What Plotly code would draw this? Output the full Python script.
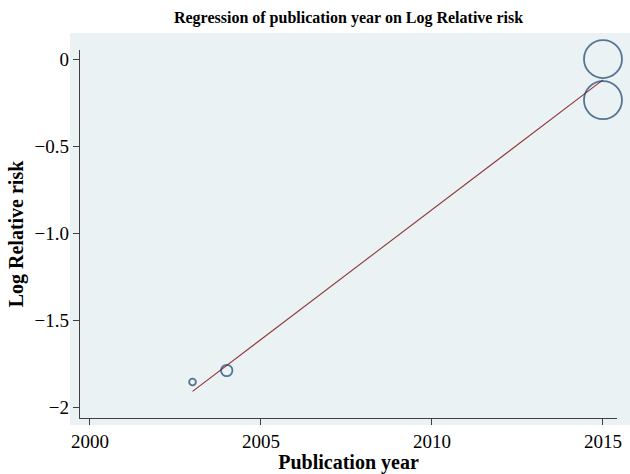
import plotly.graph_objects as go

# Data
years = [2003, 2004, 2015, 2015]
log_rr = [-1.856, -1.79, 0.0, -0.236]
weights = [3.1, 9.0, 100.0, 100.0]          # study weights (bubble area)

fit_years = [2003, 2015]
fit_values = [-1.91, -0.12]

x_ticks = [2000, 2005, 2010, 2015]
x_ticktext = ["2000", "2005", "2010", "2015"]
y_ticks = [0, -0.5, -1.0, -1.5, -2]
y_ticktext = ["0", "\u22120.5", "\u22121.0", "\u22121.5", "\u22122"]

FONT = "Liberation Serif"
BG = "#EAF2F3"
AXIS = "#404040"
MAX_DIAM = 38.0

fig = go.Figure()
fig.add_trace(go.Scatter(
    x=fit_years, y=fit_values, mode="lines",
    line=dict(color="#90353B", width=1.1), hoverinfo="skip", showlegend=False))
fig.add_trace(go.Scatter(
    x=years, y=log_rr, mode="markers",
    marker=dict(size=weights, sizemode="area",
                sizeref=2.0 * max(weights) / MAX_DIAM ** 2,
                color="rgba(0,0,0,0)", line=dict(color="#16416C", width=1.8)),
    showlegend=False, cliponaxis=False))

fig.add_shape(type="rect", xref="paper", yref="paper",
              x0=-0.0186, x1=1.03, y0=-0.019, y1=1.046,
              fillcolor=BG, line=dict(width=0), layer="below")

fig.update_layout(
    width=630, height=474,
    margin=dict(l=80, r=13, t=50, b=56),
    paper_bgcolor="white", plot_bgcolor=BG,
    font=dict(family=FONT, color="black", size=19),
    title=dict(text="<b>Regression of publication year on Log Relative risk</b>",
               x=0.5, xref="paper", xanchor="center", y=0.964, yanchor="middle",
               font=dict(size=16, family=FONT)),
    xaxis=dict(range=[1999.71, 2015.41], tickvals=x_ticks, ticktext=x_ticktext,
               automargin=False,
               showgrid=False, zeroline=False, showline=True, linecolor=AXIS,
               linewidth=1.3, ticks="outside", ticklen=6, tickcolor=AXIS,
               tickfont=dict(size=19, family=FONT),
               title=dict(text="<b>Publication year</b>", standoff=4,
                          font=dict(size=20, family=FONT))),
    yaxis=dict(range=[-2.063, 0.052], tickvals=y_ticks, ticktext=y_ticktext,
               automargin=False,
               showgrid=False, zeroline=False, showline=True, linecolor=AXIS,
               linewidth=1.3, ticks="outside", ticklen=6, tickcolor=AXIS,
               tickfont=dict(size=19, family=FONT),
               title=dict(text="<b>Log Relative risk</b>", standoff=5,
                          font=dict(size=20, family=FONT))),
)

fig.write_html("out.html",
               config={"responsive": False, "displayModeBar": False},
               post_script="document.body.style.margin='0px';")
